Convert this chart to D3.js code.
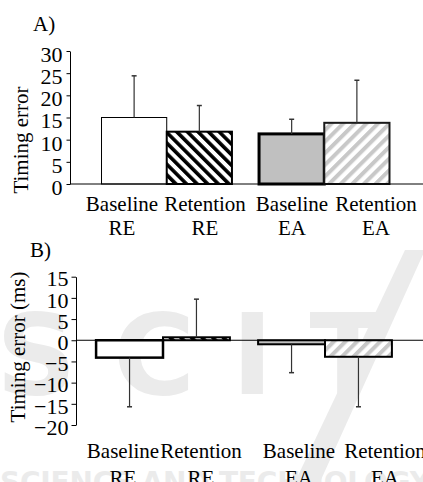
<!DOCTYPE html>
<html>
<head>
<meta charset="utf-8">
<script src="https://cdn.jsdelivr.net/npm/d3@7"></script>
<style>
  body { margin: 0; background: #fff; }
  svg { display: block; }
  text { font-family: "Liberation Serif", "Times New Roman", serif; fill: #000; }
</style>
</head>
<body>
<div id="container"></div>
<script>
const groups = ["RE", "EA"]
const phases = ["Baseline", "Retention"]

// panel A: timing error
const meansA = [15, 11.8, 11.3, 13.8]
const errA = [9.4, 5.9, 3.3, 9.6]
const ticksA = [0, 5, 10, 15, 20, 25, 30]

// panel B: timing error (ms)
const meansB = [-4.1, 0.7, -0.95, -3.9]
const errB = [11.6, 9.0, 6.7, 11.8]
const ticksB = [-20, -15, -10, -5, 0, 5, 10, 15]

const W = 423, H = 482
const fontSize = 21

const svg = d3.select("#container").append("svg")
    .attr("width", W).attr("height", H)

const defs = svg.append("defs")
const hatch = (id, color, size, stripe, angle) => {
    const p = defs.append("pattern")
        .attr("id", id)
        .attr("patternUnits", "userSpaceOnUse")
        .attr("width", size).attr("height", size)
        .attr("patternTransform", "rotate(" + angle + ")")
    p.append("rect").attr("width", size).attr("height", size).attr("fill", "#fff")
    p.append("rect").attr("width", stripe).attr("height", size).attr("fill", color)
}
hatch("hatchBlack", "#000", 7.5, 3.6, -45)
hatch("hatchGray", "#c8c8c8", 8.2, 4, 45)

// faint publisher watermark behind panel B
const wmColor = "#ebebeb"
const wm = svg.append("g").attr("fill", wmColor)
wm.append("text")
    .attr("x", -4).attr("y", 394)
    .attr("textLength", 390).attr("lengthAdjust", "spacing")
    .style("font-family", "DejaVu Sans").style("font-weight", "bold")
    .style("font-size", "112px").style("fill", wmColor)
    .text("SCIT")
wm.append("path")
    .attr("d", "M405,250 L425,250 L320,482 L295,482 Z")
wm.append("text")
    .attr("x", 0).attr("y", 492)
    .attr("textLength", 430).attr("lengthAdjust", "spacing")
    .style("font-family", "DejaVu Sans").style("font-weight", "bold")
    .style("font-size", "28px").style("fill", wmColor)
    .text("SCIENCE AND TECHNOLOGY")

const stylesA = [
    { fill: "#fff", stroke: "#000", sw: 1 },
    { fill: "url(#hatchBlack)", stroke: "#000", sw: 2 },
    { fill: "#c0c0c0", stroke: "#000", sw: 3 },
    { fill: "url(#hatchGray)", stroke: "#1a1a1a", sw: 2 },
]
const stylesB = [
    { fill: "#fff", stroke: "#000", sw: 2.5 },
    { fill: "url(#hatchBlack)", stroke: "#000", sw: 2 },
    { fill: "#c0c0c0", stroke: "#000", sw: 2 },
    { fill: "url(#hatchGray)", stroke: "#000", sw: 2 },
]

const drawPanel = (opt) => {
    const g = svg.append("g")
    const rows = []
    groups.forEach((grp, gi) => phases.forEach((ph, pi) => {
        const i = gi * 2 + pi
        rows.push({ grp, ph, v: opt.means[i], e: opt.errs[i], s: opt.styles[i], i })
    }))

    const y = d3.scaleLinear().domain(opt.domain).range(opt.yRange)
    const x0 = d3.scaleBand().domain(groups).range(opt.xRange)
        .paddingInner(opt.padInner).paddingOuter(opt.padOuter)
    const x1 = d3.scaleBand().domain(phases).range([0, x0.bandwidth()])

    // bars
    g.selectAll(".bar").data(rows).join("rect")
        .attr("class", "bar")
        .attr("x", d => x0(d.grp) + x1(d.ph))
        .attr("width", x1.bandwidth())
        .attr("y", d => y(Math.max(0, d.v)))
        .attr("height", d => Math.abs(y(d.v) - y(0)))
        .attr("fill", d => d.s.fill)
        .attr("stroke", d => d.s.stroke)
        .attr("stroke-width", d => d.s.sw)

    // error bars (one-sided, away from zero)
    const cx = d => x0(d.grp) + x1(d.ph) + x1.bandwidth() / 2
    const tip = d => y(d.v + Math.sign(d.v) * d.e)
    g.selectAll(".err").data(rows).join("line")
        .attr("class", "err")
        .attr("x1", cx).attr("x2", cx)
        .attr("y1", d => y(d.v)).attr("y2", tip)
        .attr("stroke", "#333").attr("stroke-width", 1.2)
    g.selectAll(".cap").data(rows).join("line")
        .attr("class", "cap")
        .attr("x1", d => cx(d) - 2.5).attr("x2", d => cx(d) + 2.5)
        .attr("y1", tip).attr("y2", tip)
        .attr("stroke", "#333").attr("stroke-width", 1.5)

    // zero / baseline line
    g.append("line")
        .attr("x1", opt.xRange[0]).attr("x2", W)
        .attr("y1", y(0)).attr("y2", y(0))
        .attr("stroke", "#000").attr("stroke-width", 1)

    // y axis
    const axis = g.append("g")
        .attr("transform", "translate(" + opt.xRange[0] + ",0)")
        .call(d3.axisLeft(y).tickValues(opt.ticks).tickSize(opt.tickLen).tickSizeOuter(0).tickPadding(opt.tickPad))
    axis.select(".domain").attr("stroke", "#000")
    axis.selectAll(".tick line").attr("stroke", "#000")
    axis.selectAll(".tick text")
        .attr("fill", "#000")
        .attr("dy", opt.tickDy)
        .style("font-family", '"Liberation Serif", "Times New Roman", serif')
        .style("font-size", opt.tickFont + "px")

    // y label
    g.append("text")
        .attr("transform", "translate(" + opt.ylabel.x + "," + opt.ylabel.y + ") rotate(-90)")
        .attr("text-anchor", "middle")
        .style("font-size", fontSize + "px")
        .text(opt.ylabel.text)

    // panel letter
    g.append("text")
        .attr("x", opt.letter.x).attr("y", opt.letter.y)
        .style("font-size", fontSize + "px")
        .text(opt.letter.text)

    // category labels
    g.selectAll(".cat").data(rows).join("text")
        .attr("class", "cat")
        .attr("text-anchor", "middle")
        .attr("x", d => opt.labelX[d.i])
        .attr("y", opt.labelY[0])
        .style("font-size", fontSize + "px")
        .text(d => d.ph)
    g.selectAll(".cat2").data(rows).join("text")
        .attr("class", "cat2")
        .attr("text-anchor", "middle")
        .attr("x", d => opt.labelX[d.i])
        .attr("y", opt.labelY[1])
        .style("font-size", fontSize + "px")
        .text(d => d.grp)
}

drawPanel({
    means: meansA, errs: errA, styles: stylesA, ticks: ticksA,
    domain: [0, 30], yRange: [184, 51],
    xRange: [70, 421], padInner: 0.172, padOuter: 0.2,
    tickLen: 3.5, tickPad: 4, tickDy: "0.47em", tickFont: 22,
    ylabel: { x: 28, y: 140, text: "Timing error" },
    letter: { x: 33, y: 31, text: "A)" },
    labelX: [122, 205, 292, 376], labelY: [211, 235],
})

drawPanel({
    means: meansB, errs: errB, styles: stylesB, ticks: ticksB,
    domain: [-20, 15], yRange: [425, 276.7],
    xRange: [76, 412], padInner: 0.174, padOuter: 0.124,
    tickLen: 4.5, tickPad: 3, tickDy: "0.42em", tickFont: 22,
    ylabel: { x: 25, y: 347, text: "Timing error (ms)" },
    letter: { x: 30, y: 257, text: "B)" },
    labelX: [123, 201, 299, 385], labelY: [458, 485],
})
</script>
</body>
</html>
